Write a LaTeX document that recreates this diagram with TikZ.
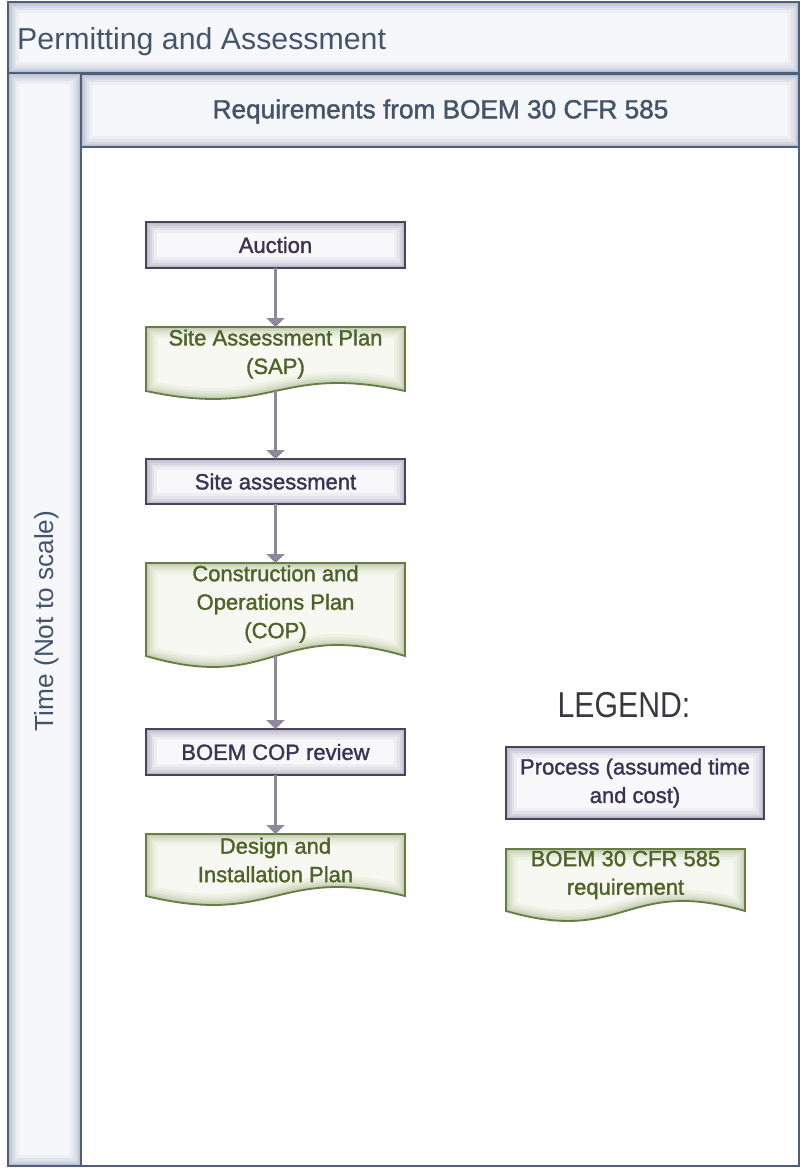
\documentclass[tikz,border=0pt]{standalone}
\usepackage{fontspec}
\setmainfont{Liberation Sans}
\newfontfamily\boxfont{Liberation Sans}[FakeBold=1.5]
\usetikzlibrary{arrows.meta,calc}
\pgfdeclarelayer{back}
\pgfdeclarelayer{bg}
\pgfsetlayers{back,bg,main}
\definecolor{hdrborder}{HTML}{4F5E7B}
\definecolor{hdrglow}{HTML}{96A0B6}
\definecolor{hdrfill}{HTML}{F6F7FA}
\definecolor{hdrtext}{HTML}{44546A}
\definecolor{procborder}{HTML}{4A4458}
\definecolor{procglow}{HTML}{9E96B0}
\definecolor{procfill}{HTML}{F8F7FA}
\definecolor{proctext}{HTML}{3C3251}
\definecolor{docborder}{HTML}{667D45}
\definecolor{docglow}{HTML}{A8B78A}
\definecolor{docfill}{HTML}{F6F8F1}
\definecolor{doctext}{HTML}{4F6228}
\definecolor{arrowc}{HTML}{8D889B}
\definecolor{legtext}{HTML}{3B3742}
\newcommand\glowfill[4]{%
  \fill[#1] #4;
  \begin{scope}
    \clip #4;
    \foreach \gw/\go in {22/0.10,16/0.13,11/0.16,7/0.2,4/0.25,2/0.3} {\draw[#2,line width=\gw pt,opacity=\go] #4;}
  \end{scope}
  \draw[#3,line width=1.8pt] #4;}
\newcommand\procshape[1]{%
  \begin{pgfonlayer}{bg}
  \glowfill{procfill}{procglow}{procborder}{(#1.north west) rectangle (#1.south east)}
  \end{pgfonlayer}}
\newcommand\docshape[3]{%
  \begin{pgfonlayer}{bg}
  \glowfill{docfill}{docglow}{docborder}{(#1.north west) -- (#1.north east) -- ($(#1.south east)+(0,#2)$) .. controls ($(#1.south)+(0,#2-3.46*#3)$) and ($(#1.south)+(0,#2+3.46*#3)$) .. ($(#1.south west)+(0,#2)$) -- cycle}
  \end{pgfonlayer}
  \coordinate (#1-bot) at ($(#1.south)+(0,#2)$);}
\begin{document}
\begin{tikzpicture}[x=1pt,y=-1pt,
  proc/.style={minimum width=259pt, minimum height=46pt, outer sep=0pt, inner sep=0pt, align=center, text=proctext, font=\boxfont\fontsize{22}{28.5}\selectfont},
  doc/.style={minimum width=259pt, outer sep=0pt, inner sep=0pt, align=center, text=doctext, font=\boxfont\fontsize{22}{28.5}\selectfont},
  conn/.style={draw=arrowc, line width=2.5pt, -{Triangle[width=18pt,length=9pt]}},
  hdrtxt/.style={text=hdrtext, inner sep=0pt}]
\useasboundingbox (0,0) rectangle (802,1170);
\begin{pgfonlayer}{back}
\fill[white] (0,0) rectangle (802,1170);
\draw[hdrborder, line width=2.5pt, fill=white] (81,147) rectangle (799,1166);
\glowfill{hdrfill}{hdrglow}{hdrborder}{(8,2) rectangle (799,73)}
\glowfill{hdrfill}{hdrglow}{hdrborder}{(8,73) rectangle (81,1166)}
\glowfill{hdrfill}{hdrglow}{hdrborder}{(81,74) rectangle (799,147)}
\end{pgfonlayer}
\node[hdrtxt, anchor=base west, font=\fontsize{30.3}{34}\selectfont] (title) at (17,49) {Permitting and Assessment};
\node[hdrtxt, anchor=base, font=\boxfont\fontsize{26.2}{30}\selectfont] (req) at (440.5,118.3) {Requirements from BOEM 30 CFR 585};
\node[hdrtxt, anchor=base, rotate=90, font=\fontsize{26.2}{30}\selectfont] (time) at (53,621) {Time (Not to scale)};
% flow
\node[proc] (auction) at (275.5,245) {Auction};
\procshape{auction}
\node[doc, minimum height=54pt] (sap) at (275.5,354) {Site Assessment Plan\\(SAP)};
\docshape{sap}{10}{8}
\node[proc, minimum height=45pt] (site) at (275.5,481.5) {Site assessment};
\procshape{site}
\node[doc, minimum height=82pt] (cop) at (275.5,604) {Construction and\\Operations Plan\\(COP)};
\docshape{cop}{11}{11}
\node[proc] (review) at (275.5,752) {BOEM COP review};
\procshape{review}
\node[doc, minimum height=52pt] (design) at (275.5,860) {Design and\\Installation Plan};
\docshape{design}{10}{9}
\draw[conn] (auction) -- (sap);
\draw[conn] (sap-bot) -- (site);
\draw[conn] (site) -- (cop);
\draw[conn] (cop-bot) -- (review);
\draw[conn] (review) -- (design);
% legend
\node[anchor=base, text=legtext, inner sep=0pt, font=\fontsize{36}{40}\selectfont] (legend) at (624,717) {\scalebox{0.84}[1]{LEGEND:}};
\node[proc, minimum width=258pt, minimum height=72pt] (legproc) at (635,783) {Process (assumed time\\and cost)};
\procshape{legproc}
\node[doc, minimum width=239pt, minimum height=52pt] (legdoc) at (625.5,875) {BOEM 30 CFR 585\\requirement};
\docshape{legdoc}{10}{10}
\end{tikzpicture}
\end{document}
